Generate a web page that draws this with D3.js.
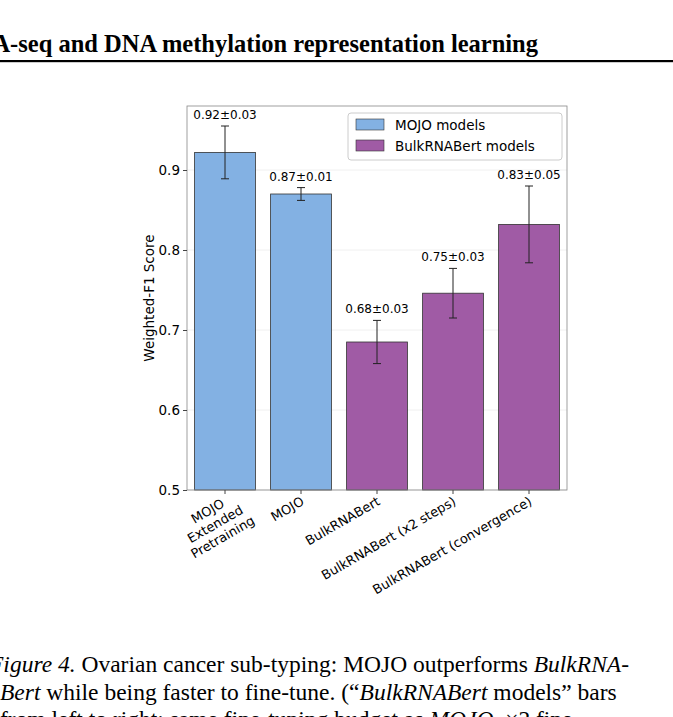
<!DOCTYPE html><html><head><meta charset="utf-8"><script src="https://cdn.jsdelivr.net/npm/d3@7"></script>
<style>body{margin:0;background:#fff}</style></head><body><svg id="c" width="673" height="717"></svg>
<script>
const categories=["MOJO\nExtended\nPretraining","MOJO","BulkRNABert","BulkRNABert (x2 steps)","BulkRNABert (convergence)"];
const groups=["MOJO models","MOJO models","BulkRNABert models","BulkRNABert models","BulkRNABert models"];
const values=[0.922,0.870,0.685,0.746,0.832];
const errors=[0.033,0.008,0.027,0.031,0.048];
const labels=["0.92±0.03","0.87±0.01","0.68±0.03","0.75±0.03","0.83±0.05"];
const yTicks=[0.5,0.6,0.7,0.8,0.9];
const legendItems=["MOJO models","BulkRNABert models"];
const colors={"MOJO models":"#83b1e3","BulkRNABert models":"#a05ba5"};
const svg=d3.select("#c");
const ff="DejaVu Sans, sans-serif";
// page header
svg.append("text").attr("x",538).attr("y",52).attr("text-anchor","end").attr("font-family","Liberation Serif, serif").attr("font-weight","bold").attr("font-size",24.5).text("RNA-seq and DNA methylation representation learning");
svg.append("rect").attr("x",0).attr("y",60).attr("width",673).attr("height",2.2).attr("fill","#000");
const L=187,R=567,T=106,B=490;
const x=d3.scaleBand().domain(categories).range([L,R]).paddingInner(0.2).paddingOuter(0.1);
const y=d3.scaleLinear().domain([0.5,0.98]).range([B,T]);
const g=svg.append("g");
g.selectAll(".gr").data(yTicks).join("line").attr("x1",L).attr("x2",R).attr("y1",d=>y(d)).attr("y2",d=>y(d)).attr("stroke","#ececec").attr("stroke-width",0.8);
g.selectAll(".bar").data(values).join("rect").attr("x",(d,i)=>x(categories[i])).attr("width",x.bandwidth()).attr("y",d=>y(d)).attr("height",d=>B-y(d)).attr("fill",(d,i)=>colors[groups[i]]).attr("stroke","#333").attr("stroke-width",0.8);
values.forEach((v,i)=>{const cx=x(categories[i])+x.bandwidth()/2;
 g.append("line").attr("x1",cx).attr("x2",cx).attr("y1",y(v+errors[i])).attr("y2",y(v-errors[i])).attr("stroke","#222").attr("stroke-width",1);
 [v+errors[i],v-errors[i]].forEach(e=>g.append("line").attr("x1",cx-4).attr("x2",cx+4).attr("y1",y(e)).attr("y2",y(e)).attr("stroke","#222"));
 g.append("text").attr("x",cx).attr("y",y(v+errors[i])-7).attr("text-anchor","middle").attr("font-family",ff).attr("font-size",12).text(labels[i]);
});
g.append("rect").attr("x",L).attr("y",T).attr("width",R-L).attr("height",B-T).attr("fill","none").attr("stroke","#888").attr("stroke-width",0.8);
const ya=svg.append("g").attr("transform",`translate(${L},0)`).call(d3.axisLeft(y).tickValues(yTicks).tickFormat(d3.format(".1f")).tickSize(4));
ya.select(".domain").remove();ya.selectAll("text").attr("font-family",ff).attr("font-size",13.5).attr("fill","#000");
ya.selectAll("line").attr("stroke","#444");
const xa=svg.append("g").attr("transform",`translate(0,${B})`).call(d3.axisBottom(x).tickSize(4).tickFormat(""));
xa.select(".domain").remove();xa.selectAll("line").attr("stroke","#444");
categories.forEach(c=>{const cx=x(c)+x.bandwidth()/2;const lines=c.split("\n");
 const t=svg.append("text").attr("transform",`translate(${cx+4},${B+14}) rotate(-30)`).attr("text-anchor","end").attr("font-family",ff).attr("font-size",13);
 lines.forEach((l,k)=>t.append("tspan").attr("x",0).attr("dy",k?15:0).attr("text-anchor",lines.length>1?"middle":"end").attr("dx",lines.length>1?-22:0).text(l));
});
svg.append("text").attr("transform",`translate(154,${(T+B)/2}) rotate(-90)`).attr("text-anchor","middle").attr("font-family",ff).attr("font-size",13.5).text("Weighted-F1 Score");
// legend
const lg=svg.append("g");
lg.append("rect").attr("x",348).attr("y",113).attr("width",214).attr("height",47).attr("rx",3).attr("fill","#fff").attr("fill-opacity",0.8).attr("stroke","#ccc");
legendItems.forEach((k,i)=>{lg.append("rect").attr("x",356).attr("y",119+i*21).attr("width",28).attr("height",11).attr("fill",colors[k]).attr("stroke","#333").attr("stroke-width",0.6);
 lg.append("text").attr("x",395).attr("y",130+i*21).attr("font-family",ff).attr("font-size",13.5).text(k);});
// caption
const cf="Liberation Serif, serif";
const c1=svg.append("text").attr("x",-11).attr("y",672).attr("font-family",cf).attr("font-size",23.5);
c1.append("tspan").attr("font-style","italic").text("Figure 4.");c1.append("tspan").text(" Ovarian cancer sub-typing: MOJO outperforms ");c1.append("tspan").attr("font-style","italic").text("BulkRNA-");
const c2=svg.append("text").attr("x",0).attr("y",700).attr("font-family",cf).attr("font-size",23.5);
c2.append("tspan").attr("font-style","italic").text("Bert");c2.append("tspan").text(" while being faster to fine-tune. (“");c2.append("tspan").attr("font-style","italic").text("BulkRNABert");c2.append("tspan").text(" models” bars");
const c3=svg.append("text").attr("x",0).attr("y",727).attr("font-family",cf).attr("font-size",23.5);
c3.append("tspan").text("from left to right: same fine-tuning budget as ");c3.append("tspan").attr("font-style","italic").text("MOJO");c3.append("tspan").text(", ×2 fine-");
</script></body></html>
